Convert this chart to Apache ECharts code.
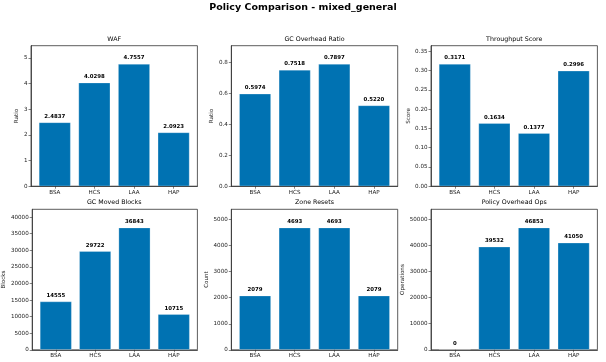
<!DOCTYPE html>
<html>
<head>
<meta charset="utf-8">
<script src="https://cdn.jsdelivr.net/npm/echarts@6/dist/echarts.min.js"></script>
<style>html,body{margin:0;padding:0;background:#fff}#c{width:606px;height:362px}</style>
</head>
<body>
<div id="c"></div>
<script>
const categories = ['BSA', 'HCS', 'LAA', 'HAP'];
const wafValues = [2.4837, 4.0298, 4.7557, 2.0923];
const gcOverheadRatio = [0.5974, 0.7518, 0.7897, 0.5220];
const throughputScore = [0.3171, 0.1634, 0.1377, 0.2996];
const gcMovedBlocks = [14555, 29722, 36843, 10715];
const zoneResets = [2079, 4693, 4693, 2079];
const policyOverheadOps = [0, 39532, 46853, 41050];

const wafTicks = [0, 1, 2, 3, 4, 5];
const gcRatioTicks = [0, 0.2, 0.4, 0.6, 0.8];
const throughputTicks = [0, 0.05, 0.10, 0.15, 0.20, 0.25, 0.30, 0.35];
const movedTicks = [0, 5000, 10000, 15000, 20000, 25000, 30000, 35000, 40000];
const resetTicks = [0, 1000, 2000, 3000, 4000, 5000];
const opsTicks = [0, 10000, 20000, 30000, 40000, 50000];

const panels = [
  {title: 'WAF', yName: 'Ratio', values: wafValues, ticks: wafTicks, tickDec: 0, labDec: 4, gap: 10},
  {title: 'GC Overhead Ratio', yName: 'Ratio', values: gcOverheadRatio, ticks: gcRatioTicks, tickDec: 1, labDec: 4, gap: 14.5},
  {title: 'Throughput Score', yName: 'Score', values: throughputScore, ticks: throughputTicks, tickDec: 2, labDec: 4, gap: 17},
  {title: 'GC Moved Blocks', yName: 'Blocks', values: gcMovedBlocks, ticks: movedTicks, tickDec: 0, labDec: 0, gap: 22.3},
  {title: 'Zone Resets', yName: 'Count', values: zoneResets, ticks: resetTicks, tickDec: 0, labDec: 0, gap: 19.7},
  {title: 'Policy Overhead Ops', yName: 'Operations', values: policyOverheadOps, ticks: opsTicks, tickDec: 0, labDec: 0, gap: 23}
];

const colLeft = [31, 231.3, 431];
const rowTop = [45.7, 209.3];
const gW = 166.4, gH = 140.5;
const FONT = 'DejaVu Sans';
const barColor = '#0072B2';
const spine = '#333';

const grids = [], xAxes = [], yAxes = [], series = [], titles = [];
titles.push({
  text: 'Policy Comparison - mixed_general', left: 'center', top: 3, padding: 0,
  textStyle: {fontFamily: FONT, fontSize: 9.5, fontWeight: 'bold', color: '#000'}
});

panels.forEach((p, i) => {
  const r = Math.floor(i / 3), c = i % 3;
  const left = colLeft[c], top = rowTop[r];
  grids.push({left: left, top: top, width: gW, height: gH, show: true,
    borderColor: spine, borderWidth: 0.8, backgroundColor: 'transparent', containLabel: false});
  titles.push({
    text: p.title, left: left + gW / 2, top: top - 9.8, textAlign: 'center', padding: 0,
    textStyle: {fontFamily: FONT, fontSize: 6.3, fontWeight: 'normal', color: '#000'}
  });
  const ymax = Math.max(...p.values) * 1.15;
  xAxes.push({
    gridIndex: i, type: 'value', min: -0.6, max: 3.6, z: 5,
    axisLine: {show: true, onZero: false, lineStyle: {color: spine, width: 0.8}},
    axisTick: {show: true, length: 2.5, lineStyle: {color: spine, width: 0.6}, customValues: categories.map((_, k) => k)},
    axisLabel: {show: true, fontFamily: FONT, fontSize: 5.6, color: '#222', margin: 3,
      customValues: categories.map((_, k) => k), formatter: v => categories[Math.round(v)] || ''},
    splitLine: {show: false}
  });
  yAxes.push({
    gridIndex: i, type: 'value', min: 0, max: ymax,
    name: p.yName, nameLocation: 'middle', nameGap: p.gap, nameRotate: 90,
    nameTextStyle: {fontFamily: FONT, fontSize: 5.6, color: '#222'},
    axisLine: {show: true, onZero: false, lineStyle: {color: spine, width: 0.8}},
    axisTick: {show: true, length: 2.5, lineStyle: {color: spine, width: 0.6}, customValues: p.ticks},
    axisLabel: {show: true, fontFamily: FONT, fontSize: 5.6, color: '#222', margin: 3.5,
      customValues: p.ticks, formatter: v => Number(v).toFixed(p.tickDec)},
    splitLine: {show: false}
  });
  series.push({
    type: 'bar', xAxisIndex: i, yAxisIndex: i,
    data: p.values.map((v, k) => [k, v]),
    barWidth: gW / 4.2 * 0.8,
    itemStyle: {color: barColor, borderColor: 'rgba(255,255,255,0.5)', borderWidth: 0.5},
    label: {show: true, position: 'top', distance: 3.5, fontFamily: FONT, fontSize: 5.4, fontWeight: 'bold', color: '#000',
      formatter: prm => Number(prm.value[1]).toFixed(p.labDec)}
  });
});

const chart = echarts.init(document.getElementById('c'), null, {renderer: 'canvas'});
chart.setOption({
  animation: false,
  backgroundColor: '#fff',
  title: titles,
  grid: grids,
  xAxis: xAxes,
  yAxis: yAxes,
  series: series
});
</script>
</body>
</html>
